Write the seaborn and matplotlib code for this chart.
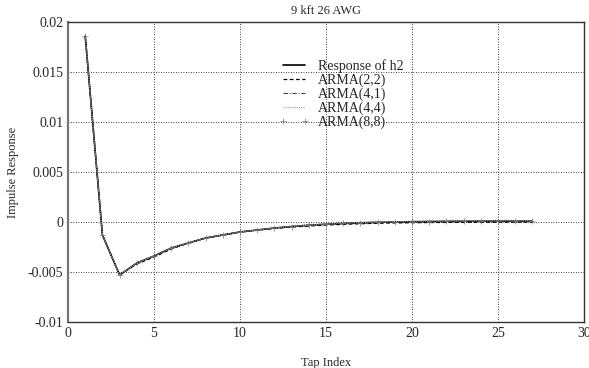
import numpy as np
import pandas as pd
import seaborn as sns

import matplotlib
matplotlib.use('Agg')
import matplotlib.pyplot as plt

taps = list(range(1, 28))
h2 = [0.0186, -0.0013, -0.0053, -0.0041, -0.0034, -0.0026, -0.0021, -0.0016, -0.0013,
      -0.0010, -0.0008, -0.0006, -0.00045, -0.00032, -0.00022, -0.00014, -0.00008, -0.00003,
      0.0, 0.00003, 0.00005, 0.00007, 0.00008, 0.00009, 0.0001, 0.0001, 0.0001]
arma22 = [0.0186, -0.0013, -0.0053, -0.0042, -0.0035, -0.0027, -0.0021, -0.0016, -0.0013,
          -0.0010, -0.0008, -0.00065, -0.0005, -0.0004, -0.0003, -0.00023, -0.00017, -0.00012,
          -0.00009, -0.00007, -0.00005, -0.00004, -0.00003, -0.00002, -0.00002, -0.00001, -0.00001]
arma41 = [0.0186, -0.0013, -0.0053, -0.0041, -0.0034, -0.0026, -0.0021, -0.0016, -0.0013,
          -0.0010, -0.0008, -0.0006, -0.00045, -0.00033, -0.00023, -0.00015, -0.00009, -0.00004,
          -0.00001, 0.00002, 0.00004, 0.00006, 0.00007, 0.00008, 0.00008, 0.00009, 0.00009]
arma44 = [0.0186, -0.0013, -0.0053, -0.0041, -0.0034, -0.0026, -0.0021, -0.0016, -0.0013,
          -0.0010, -0.0008, -0.0006, -0.00044, -0.00031, -0.0002, -0.00012, -0.00005, 0.0,
          0.00004, 0.00007, 0.00009, 0.00011, 0.00012, 0.00013, 0.00013, 0.00014, 0.00014]
arma88 = [0.0186, -0.0013, -0.0053, -0.0041, -0.0034, -0.0026, -0.0021, -0.0016, -0.0013,
          -0.0010, -0.0008, -0.0006, -0.00045, -0.00032, -0.00022, -0.00014, -0.00008, -0.00003,
          0.0, 0.00003, 0.00005, 0.00007, 0.00008, 0.00009, 0.0001, 0.0001, 0.0001]

sns.set_style("white")
plt.rcParams['font.family'] = ['Liberation Serif', 'DejaVu Serif']

fig = plt.figure(figsize=(5.89, 3.68), dpi=100)
ax = fig.add_axes([0.1155, 0.125, 0.876, 0.815])

sns.lineplot(x=taps, y=h2, ax=ax, color='black', linewidth=1.2, label='Response of h2')
sns.lineplot(x=taps, y=arma22, ax=ax, color='black', linewidth=0.9, linestyle=(0, (3, 2)),
             label='ARMA(2,2)')
sns.lineplot(x=taps, y=arma41, ax=ax, color='#444444', linewidth=0.8, linestyle=(0, (4, 1.5, 1, 1.5)),
             label='ARMA(4,1)')
sns.lineplot(x=taps, y=arma44, ax=ax, color='#999999', linewidth=0.8, linestyle=(0, (1, 1)),
             label='ARMA(4,4)')
sns.lineplot(x=taps, y=arma88, ax=ax, color='#777777', linestyle='none', marker='+', markersize=4,
             markeredgewidth=0.5, markeredgecolor='#777777', label='ARMA(8,8)')

ax.set_xlim(0, 30)
ax.set_ylim(-0.01, 0.02)
ax.set_xticks([0, 5, 10, 15, 20, 25, 30])
ax.set_yticks([-0.01, -0.005, 0, 0.005, 0.01, 0.015, 0.02])
ax.set_yticklabels(['-0.01', '-0.005', '0', '0.005', '0.01', '0.015', '0.02'])
ax.grid(True, color='black', linestyle=(0, (1, 2)), linewidth=0.6)
ax.tick_params(labelsize=10, length=0)
for s in ax.spines.values():
    s.set_color('#333333')
    s.set_linewidth(1.0)
ax.spines['left'].set_color('#777777')
ax.spines['left'].set_linewidth(1.6)

ax.set_title('9 kft 26 AWG', fontsize=9, pad=6)
ax.set_xlabel('Tap Index', fontsize=9, labelpad=12)
ax.set_ylabel('Impulse Response', fontsize=9, labelpad=6)

ax.legend(loc='upper left', bbox_to_anchor=(0.39, 0.91), frameon=False, fontsize=10,
          handlelength=2.2, labelspacing=0.05, borderpad=0.2, handletextpad=0.6, numpoints=2)

fig.savefig('out.png', dpi=100)
